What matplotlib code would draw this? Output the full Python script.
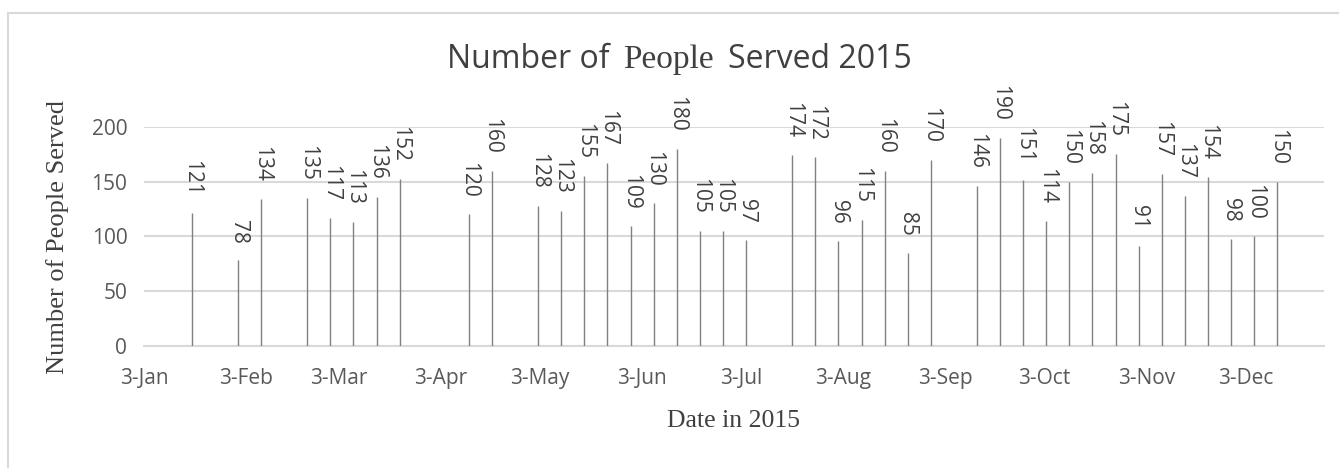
import datetime as dt
import matplotlib
matplotlib.use("Agg")
import matplotlib.pyplot as plt
import matplotlib.dates as mdates
from matplotlib.ticker import FuncFormatter
from matplotlib.patches import Rectangle

# weekly counts (saturdays)
dates = ['2015-01-17', '2015-01-31', '2015-02-07', '2015-02-21', '2015-02-28',
         '2015-03-07', '2015-03-14', '2015-03-21', '2015-04-11', '2015-04-18',
         '2015-05-02', '2015-05-09', '2015-05-16', '2015-05-23', '2015-05-30',
         '2015-06-06', '2015-06-13', '2015-06-20', '2015-06-27', '2015-07-04',
         '2015-07-18', '2015-07-25', '2015-08-01', '2015-08-08', '2015-08-15',
         '2015-08-22', '2015-08-29', '2015-09-12', '2015-09-19', '2015-09-26',
         '2015-10-03', '2015-10-10', '2015-10-17', '2015-10-24', '2015-10-31',
         '2015-11-07', '2015-11-14', '2015-11-21', '2015-11-28', '2015-12-05',
         '2015-12-12']
served = [121, 78, 134, 135, 117, 113, 136, 152, 120, 160,
          128, 123, 155, 167, 109, 130, 180, 105, 105, 97,
          174, 172, 96, 115, 160, 85, 170, 146, 190, 151,
          114, 150, 158, 175, 91, 157, 137, 154, 98, 100,
          150]
yticks = [0, 50, 100, 150, 200]
month_ticks = ['2015-%02d-03' % m for m in range(1, 13)]

W, H = 1339, 468
fig = plt.figure(figsize=(W / 100, H / 100), dpi=100)
ax = fig.add_axes([144 / W, 1 - 346 / H, (1324 - 144) / W, (346 - 126.7) / H])

sans = 'Open Sans'
serif = 'Liberation Serif'
grid_col = '#d9d9d9'

# excel date axis puts each bar in the middle of its day
xs = [mdates.date2num(dt.datetime.strptime(d, '%Y-%m-%d')) + 0.5 for d in dates]
ax.vlines(xs, 0, served, color='#808080', linewidth=1.0, zorder=3)

for x, v in zip(xs, served):
    ax.annotate(str(v), xy=(x, v), xytext=(0, 17), textcoords='offset pixels',
                rotation=270, ha='center', va='bottom', fontsize=15,
                family=sans, color='#404040', annotation_clip=False)

start = mdates.date2num(dt.datetime(2015, 1, 3))
ax.set_xlim(start, start + 357.7)
ax.set_ylim(0, 200)
ax.set_xticks([mdates.date2num(dt.datetime.strptime(d, '%Y-%m-%d')) for d in month_ticks])
ax.xaxis.set_major_formatter(FuncFormatter(
    lambda v, p: '%d-%s' % (mdates.num2date(v).day, mdates.num2date(v).strftime('%b'))))
ax.set_yticks(yticks)

ax.yaxis.grid(True, color=grid_col, linewidth=1.5)
ax.set_axisbelow(True)
for s in ['top', 'right', 'left']:
    ax.spines[s].set_visible(False)
ax.spines['bottom'].set_color(grid_col)
ax.spines['bottom'].set_linewidth(1.5)
ax.tick_params(length=0, labelsize=15, labelcolor='#595959')
ax.tick_params(axis='y', pad=12)
ax.tick_params(axis='x', pad=16)
for lab in ax.get_xticklabels() + ax.get_yticklabels():
    lab.set_family(sans)

# axis titles are in times
fig.text(58 / W, 1 - 236.5 / H, 'Number of People Served', rotation=90,
         ha='center', va='center', fontsize=19, family=serif, color='#404040')
fig.text(733.5 / W, 1 - 427 / H, 'Date in 2015', ha='center', va='baseline',
         fontsize=18.5, family=serif, color='#404040')

# chart title mixes calibri-ish and times ("People"), all on one baseline
pieces = [('Number of', sans, 23), ('People', serif, 24), ('Served 2015', sans, 23)]
renderer = fig.canvas.get_renderer()
xpos = 447
for txt, fam, size in pieces:
    t = fig.text(xpos / W, 1 - 68 / H, txt, ha='left', va='baseline',
                 fontsize=size, family=fam, color='#404040')
    xpos = t.get_window_extent(renderer).x1 + 14

# chart area border (only top and left show in the crop)
fig.patches.append(Rectangle((8 / W, -0.1), 1.2, 1.1 - 13 / H, transform=fig.transFigure,
                             fill=False, edgecolor=grid_col, linewidth=1.5))

plt.savefig('out.png', dpi=100)
